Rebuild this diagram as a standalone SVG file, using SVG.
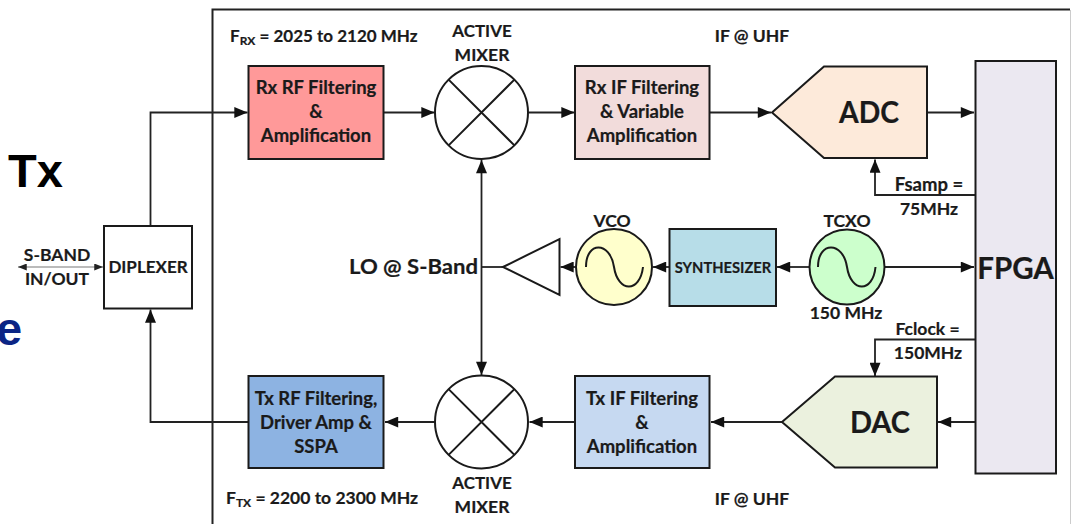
<svg xmlns="http://www.w3.org/2000/svg" width="1071" height="524" viewBox="0 0 1071 524">
<style>
text{font-family:Lato,"Open Sans",sans-serif;font-weight:700;font-size:17.5px;fill:#1a1a1a;stroke:#1a1a1a;stroke-width:.2;text-anchor:middle}
.s{fill:none;stroke:#1a1a1a;stroke-width:2}
.n{stroke:#1a1a1a;stroke-width:2}
.c{fill:none;stroke:#222;stroke-width:1.8}
.big{font-size:29.500px}
.m{font-size:18.500px}
.sub{font-size:12px}
.st{text-anchor:start}
.bg{font-family:"Liberation Sans",sans-serif;font-size:47px;text-anchor:start;stroke:none}
</style>
<defs>
<marker id="a" viewBox="0 0 12 10" refX="12" refY="5" markerWidth="14" markerHeight="11" markerUnits="userSpaceOnUse" orient="auto-start-reverse"><path d="M0 0L12 5L0 10Z" fill="#111"/></marker>
<marker id="b" viewBox="0 0 10 8" refX="10" refY="4" markerWidth="9" markerHeight="7" markerUnits="userSpaceOnUse" orient="auto-start-reverse"><path d="M0 0L10 4L0 8Z" fill="#222"/></marker>
</defs>
<rect width="1071" height="524" fill="#fff"/>
<g id="frame"><path d="M212.500 524V9.500H1070" fill="none" stroke="#222" stroke-width="2"/><path d="M1070.500 10V524" fill="none" stroke="#ccc" stroke-width="1"/></g>
<g id="backdrop-text"><text class="bg" x="8" y="187" style="fill:#000">Tx</text>
<text class="bg" x="-4" y="345" style="fill:#0b2585">e</text></g>
<g id="connectors">
<path class="c" style="stroke:#bbb" d="M18 267H103" marker-start="url(#b)" marker-end="url(#b)"/>
<path class="c" d="M150.500 226V112.500H247.500" marker-end="url(#a)"/>
<path class="c" d="M248 422H150.500V309.500" marker-end="url(#a)"/>
<path class="c" d="M384 112.500H434.500" marker-end="url(#a)"/>
<path class="c" d="M529 112.500H574.500" marker-end="url(#a)"/>
<path class="c" d="M710 112.500H771" marker-end="url(#a)"/>
<path class="c" d="M927 112.500H974" marker-end="url(#a)"/>
<path class="c" d="M975 195H875V159.500" marker-end="url(#a)"/>
<path class="c" d="M481.500 160V375" marker-start="url(#a)" marker-end="url(#a)"/>
<path class="c" d="M481.500 267H503"/>
<path class="c" d="M576 267H560.500" marker-end="url(#a)"/>
<path class="c" d="M669 267H653" marker-end="url(#a)"/>
<path class="c" d="M809 267H777" marker-end="url(#a)"/>
<path class="c" d="M885 267H974" marker-end="url(#a)"/>
<path class="c" d="M975 339.500H875V376" marker-end="url(#a)"/>
<path class="c" d="M975 422H938" marker-end="url(#a)"/>
<path class="c" d="M782 422H711" marker-end="url(#a)"/>
<path class="c" d="M575 422H529.500" marker-end="url(#a)"/>
<path class="c" d="M435 422H385" marker-end="url(#a)"/>
</g>
<g id="diplexer"><rect class="n" x="104" y="226" width="88" height="82.500" fill="#fff"/><text x="148" y="273" style="font-size:17px">DIPLEXER</text></g>
<g id="sband"><text x="57" y="261">S-BAND</text><text x="57" y="285">IN/OUT</text></g>
<g id="rx-rf"><rect class="n" x="248.500" y="66" width="135" height="93" fill="#ff9999"/><text class="m" x="316" y="94">Rx RF Filtering</text><text class="m" x="316" y="118">&amp;</text><text class="m" x="316" y="142">Amplification</text></g>
<g id="rx-mixer"><circle class="n" cx="481.500" cy="112.500" r="46.500" fill="#fff"/><path class="s" d="M448.600 79.600L514.400 145.400M514.400 79.600L448.600 145.400"/><text x="482" y="37" style="font-size:17px">ACTIVE</text><text x="482" y="61">MIXER</text></g>
<g id="rx-if"><rect class="n" x="575" y="66" width="134.500" height="93" fill="#f2dcdb"/><text class="m" x="642" y="94">Rx IF Filtering</text><text class="m" x="642" y="118">&amp; Variable</text><text class="m" x="642" y="142">Amplification</text></g>
<g id="adc"><polygon class="n" points="772,112.500 824,66.500 927,66.500 927,158 824,158" fill="#fdeada"/><text class="big" x="869" y="123" textLength="60" lengthAdjust="spacingAndGlyphs">ADC</text></g>
<g id="fpga"><rect class="n" x="975.500" y="61" width="80.500" height="412.500" fill="#ebe8f1"/><text class="big" x="1015.500" y="279">FPGA</text></g>
<g id="amp"><polygon class="n" points="503,267 559.500,239 559.500,295" fill="#fff"/></g>
<g id="lo"><text x="413.500" y="274" style="font-size:20.500px" textLength="129" lengthAdjust="spacingAndGlyphs">LO @ S-Band</text></g>
<g id="vco"><circle class="n" cx="614" cy="267" r="38" fill="#ffffcc"/><path class="s" d="M586 267C586 241 610 241 614 267S640 293 643 267"/><text x="612" y="227">VCO</text></g>
<g id="synth"><rect class="n" x="669.500" y="229" width="106.500" height="77" fill="#b7dde8"/><text x="723" y="273" style="font-size:14.700px">SYNTHESIZER</text></g>
<g id="tcxo"><circle class="n" cx="847" cy="267" r="37.500" fill="#ccffcc"/><path class="s" d="M818 267C818 241 843 241 847 267S873 293 875.500 267"/><text x="847" y="227">TCXO</text><text x="846" y="319">150 MHz</text></g>
<g id="dac"><polygon class="n" points="782,422 835,376.500 937,376.500 937,467.500 835,467.500" fill="#ebf1de"/><text class="big" x="880" y="433" textLength="60" lengthAdjust="spacingAndGlyphs">DAC</text></g>
<g id="tx-if"><rect class="n" x="575" y="376" width="134.500" height="92" fill="#c6d9f1"/><text class="m" x="642" y="405">Tx IF Filtering</text><text class="m" x="642" y="429">&amp;</text><text class="m" x="642" y="453">Amplification</text></g>
<g id="tx-mixer"><circle class="n" cx="481.500" cy="422" r="46.500" fill="#fff"/><path class="s" d="M448.600 389.100L514.400 454.900M514.400 389.100L448.600 454.900"/><text x="482" y="489" style="font-size:17px">ACTIVE</text><text x="482" y="513">MIXER</text></g>
<g id="tx-rf"><rect class="n" x="248.500" y="376" width="135" height="92" fill="#8db3e2"/><text class="m" x="316" y="405">Tx RF Filtering,</text><text class="m" x="316" y="429">Driver Amp &amp;</text><text class="m" x="316" y="453">SSPA</text></g>
<g id="labels">
<text class="st" x="230" y="42" style="font-size:17px">F<tspan class="sub" dy="3">RX</tspan><tspan dy="-3"> = 2025 to 2120 MHz</tspan></text>
<text class="st" x="226" y="504">F<tspan class="sub" dy="3">TX</tspan><tspan dy="-3"> = 2200 to 2300 MHz</tspan></text>
<text x="752" y="42">IF @ UHF</text>
<text x="752" y="505">IF @ UHF</text>
<text class="m" x="929" y="191">Fsamp =</text><text x="929" y="215">75MHz</text>
<text x="927.500" y="335">Fclock =</text><text x="928" y="359">150MHz</text>
</g>
</svg>
